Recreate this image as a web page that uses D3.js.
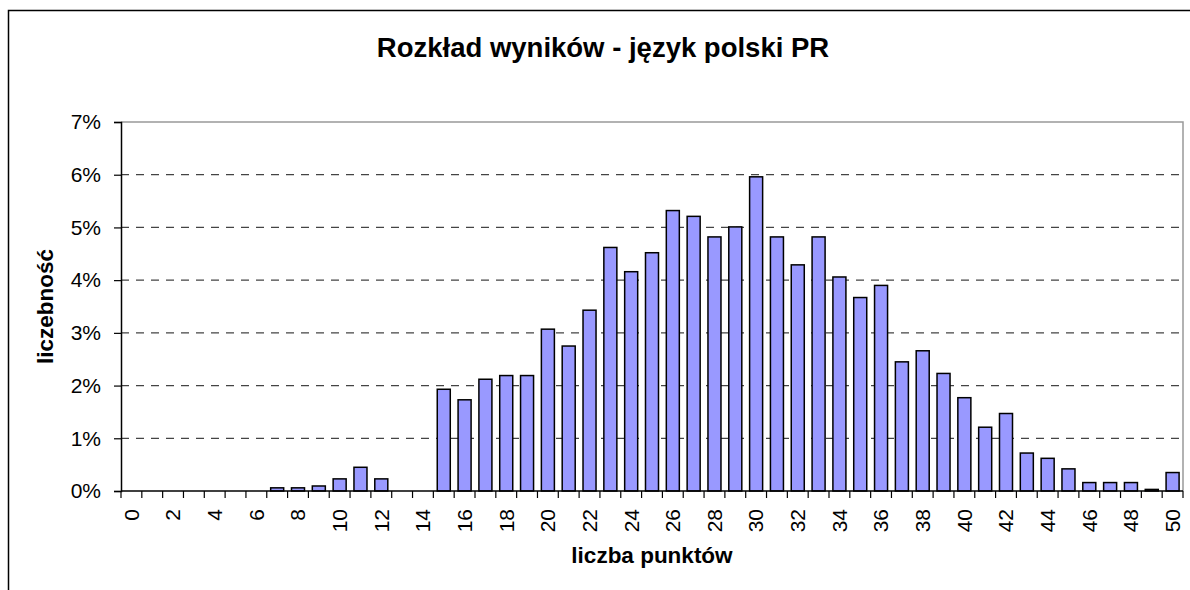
<!DOCTYPE html>
<html lang="pl">
<head>
<meta charset="utf-8">
<title>Rozkład wyników</title>
<script src="https://cdn.jsdelivr.net/npm/d3@7"></script>
<style>
    body { margin: 0; background: #fff; }
    text { font-family: Arial, "Liberation Sans", sans-serif; }
</style>
</head>
<body>
<script>

// -- Data -- //

let points = d3.range(0, 51);
let shares = [
    0, 0, 0, 0, 0, 0, 0, 0.0006, 0.0006, 0.00095,
    0.0023, 0.0045, 0.0023, 0, 0, 0.0193, 0.0173, 0.0212, 0.0219, 0.0219,
    0.0307, 0.0275, 0.0343, 0.0462, 0.0416, 0.0452, 0.0532, 0.0521, 0.0482, 0.0501,
    0.0596, 0.0482, 0.0429, 0.0482, 0.0406, 0.0367, 0.0390, 0.0245, 0.0266, 0.0223,
    0.0177, 0.0121, 0.0147, 0.0072, 0.0062, 0.0042, 0.0016, 0.0016, 0.0016, 0.0003,
    0.0035
];
let yTicks = [0, 0.01, 0.02, 0.03, 0.04, 0.05, 0.06, 0.07];

// -- Setting -- //

let width = 1190;
let height = 590;
let plot = { left: 121, top: 122, right: 1183, bottom: 491 };

const svg = d3.select("body")
    .append("svg")
    .attr("width", width)
    .attr("height", height);

// outer chart frame (right and bottom edges fall outside the picture)
svg.append("rect")
    .attr("x", 8.5)
    .attr("y", 10.5)
    .attr("width", 1300)
    .attr("height", 700)
    .attr("fill", "#fff")
    .attr("stroke", "#000")
    .attr("stroke-width", 1.5);

// scales
let x = d3.scaleBand()
    .domain(points)
    .range([plot.left, plot.right])
    .paddingInner(0.375)
    .paddingOuter(0.1875);

let y = d3.scaleLinear()
    .domain([0, 0.07])
    .range([plot.bottom, plot.top]);

// grid lines
svg.append("g")
    .selectAll("line")
    .data(yTicks.filter(d => d > 0 && d < 0.07))
    .join("line")
        .attr("x1", plot.left)
        .attr("x2", plot.right)
        .attr("y1", d => y(d))
        .attr("y2", d => y(d))
        .attr("stroke", "#444")
        .attr("stroke-width", 1.2)
        .attr("stroke-dasharray", "8,7");

// plot area top and right border
svg.append("path")
    .attr("d", `M${plot.left},${plot.top}H${plot.right}V${plot.bottom}`)
    .attr("fill", "none")
    .attr("stroke", "#999")
    .attr("stroke-width", 1.5);

// bars
svg.append("g")
    .selectAll("rect")
    .data(points.filter(p => shares[p] > 0))
    .join("rect")
        .attr("x", p => x(p))
        .attr("width", x.bandwidth())
        .attr("y", p => y(shares[p]))
        .attr("height", p => y(0) - y(shares[p]))
        .attr("fill", "#9999ff")
        .attr("stroke", "#000")
        .attr("stroke-width", 1.5);

// y axis
let yAxis = svg.append("g")
    .attr("transform", `translate(${plot.left},0)`)
    .call(d3.axisLeft(y)
        .tickValues(yTicks)
        .tickFormat(d3.format(".0%"))
        .tickSize(7)
        .tickPadding(13));

yAxis.select(".domain").attr("stroke", "#000").attr("stroke-width", 1.5);
yAxis.selectAll(".tick line").attr("stroke", "#000").attr("stroke-width", 1.2);
yAxis.selectAll(".tick text")
    .attr("font-size", 21)
    .attr("font-family", "Arial, 'Liberation Sans', sans-serif")
    .attr("fill", "#000");

// x axis line and ticks at category boundaries
svg.append("line")
    .attr("x1", plot.left)
    .attr("x2", plot.right)
    .attr("y1", plot.bottom)
    .attr("y2", plot.bottom)
    .attr("stroke", "#000")
    .attr("stroke-width", 1.5);

let boundaries = points.map(p => x(p) - x.step() * x.paddingInner() / 2)
    .concat([plot.right]);

svg.append("g")
    .selectAll("line")
    .data(boundaries)
    .join("line")
        .attr("x1", d => d)
        .attr("x2", d => d)
        .attr("y1", plot.bottom)
        .attr("y2", plot.bottom + 7)
        .attr("stroke", "#000")
        .attr("stroke-width", 1.2);

svg.append("g")
    .selectAll("text")
    .data(points.filter(p => p % 2 === 0))
    .join("text")
        .attr("transform", p => `translate(${x(p) + x.bandwidth() / 2},${plot.bottom + 18}) rotate(-90)`)
        .attr("text-anchor", "end")
        .attr("dy", "0.35em")
        .attr("font-size", 21)
        .text(p => p);

// titles
svg.append("text")
    .attr("x", 603)
    .attr("y", 57)
    .attr("text-anchor", "middle")
    .attr("font-size", 27.5)
    .attr("font-weight", "bold")
    .text("Rozkład wyników - język polski PR");

svg.append("text")
    .attr("x", (plot.left + plot.right) / 2)
    .attr("y", 563)
    .attr("text-anchor", "middle")
    .attr("font-size", 22.5)
    .attr("font-weight", "bold")
    .text("liczba punktów");

svg.append("text")
    .attr("transform", `translate(53,${(plot.top + plot.bottom) / 2}) rotate(-90)`)
    .attr("text-anchor", "middle")
    .attr("font-size", 22.5)
    .attr("font-weight", "bold")
    .text("liczebność");

</script>
</body>
</html>
